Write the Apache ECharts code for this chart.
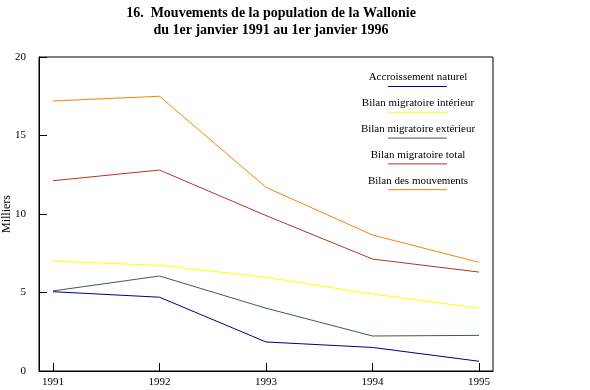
<!DOCTYPE html>
<html>
<head>
<meta charset="utf-8">
<script src="https://cdn.jsdelivr.net/npm/echarts@6/dist/echarts.min.js"></script>
<style>html,body{margin:0;padding:0;background:#fff}#c{width:590px;height:390px}</style>
</head>
<body>
<div id="c"></div>
<script>
var years = [1991, 1992, 1993, 1994, 1995];
var seriesNames = ['Accroissement naturel', 'Bilan migratoire intérieur', 'Bilan migratoire extérieur', 'Bilan migratoire total', 'Bilan des mouvements'];
var accroissementNaturel = [5.05, 4.7, 1.85, 1.5, 0.62];
var migratoireInterieur = [7.0, 6.73, 5.97, 4.9, 4.0];
var migratoireExterieur = [5.1, 6.05, 4.0, 2.23, 2.27];
var migratoireTotal = [12.12, 12.8, 9.9, 7.13, 6.3];
var bilanMouvements = [17.2, 17.5, 11.7, 8.66, 6.92];
var yTicks = [0, 5, 10, 15, 20];
var titleLines = ['16.  Mouvements de la population de la Wallonie', 'du 1er janvier 1991 au 1er janvier 1996'];
var yName = 'Milliers';

var colors = ['#000080', '#ffff00', '#3f5f3f', '#c03020', '#ff8000'];
var values = [accroissementNaturel, migratoireInterieur, migratoireExterieur, migratoireTotal, bilanMouvements];
var font = '"Liberation Serif", "Times New Roman", serif';

var chart = echarts.init(document.getElementById('c'), null, {renderer: 'canvas'});

var series = values.map(function (vals, i) {
  return {
    name: seriesNames[i],
    type: 'line',
    data: vals.map(function (v, j) { return [years[j], v]; }),
    showSymbol: false,
    symbol: 'none',
    lineStyle: {color: colors[i], width: 1},
    itemStyle: {color: colors[i]},
    animation: false,
    z: 5 - i
  };
});

var legendGraphics = [];
seriesNames.forEach(function (n, i) {
  legendGraphics.push({
    type: 'text',
    x: 418, y: 72 + i * 25.8,
    style: {text: n, font: '11px ' + font, fill: '#000', textAlign: 'center'}
  });
  legendGraphics.push({
    type: 'line',
    shape: {x1: 388, y1: 86.5 + i * 25.8, x2: 447, y2: 86.5 + i * 25.8},
    style: {stroke: colors[i], lineWidth: 1}
  });
});

chart.setOption({
  animation: false,
  backgroundColor: '#fff',
  title: {
    text: titleLines.join('\n'),
    left: 266, top: 0,
    textAlign: 'center',
    textStyle: {fontFamily: font, fontSize: 14, fontWeight: 'bold', color: '#000', lineHeight: 17, align: 'center'}
  },
  grid: {left: 39, right: 97, top: 57, bottom: 19, show: true, borderColor: '#000', borderWidth: 1, backgroundColor: 'transparent', containLabel: false, outerBoundsMode: 'none'},
  xAxis: {
    type: 'value',
    min: 1990.869, max: 1995.131,
    axisLine: {lineStyle: {color: '#000', width: 1}},
    axisTick: {show: true, inside: true, length: 8, lineStyle: {color: '#000'}, customValues: years},
    axisLabel: {show: true, customValues: years, formatter: function (v) { return String(Math.round(v)); }, fontFamily: font, fontSize: 11, color: '#000', margin: 6},
    splitLine: {show: false}
  },
  yAxis: {
    type: 'value',
    min: 0, max: 20, interval: 5,
    name: yName,
    nameLocation: 'middle',
    nameGap: 26,
    nameMoveOverlap: false,
    nameTextStyle: {fontFamily: font, fontSize: 12, color: '#000'},
    axisLine: {show: true, lineStyle: {color: '#000', width: 1}},
    axisTick: {show: true, inside: true, length: 8, lineStyle: {color: '#000'}, customValues: yTicks},
    axisLabel: {fontFamily: font, fontSize: 11, color: '#000', margin: 13, customValues: yTicks},
    splitLine: {show: false}
  },
  graphic: legendGraphics,
  series: series
});
</script>
</body>
</html>
